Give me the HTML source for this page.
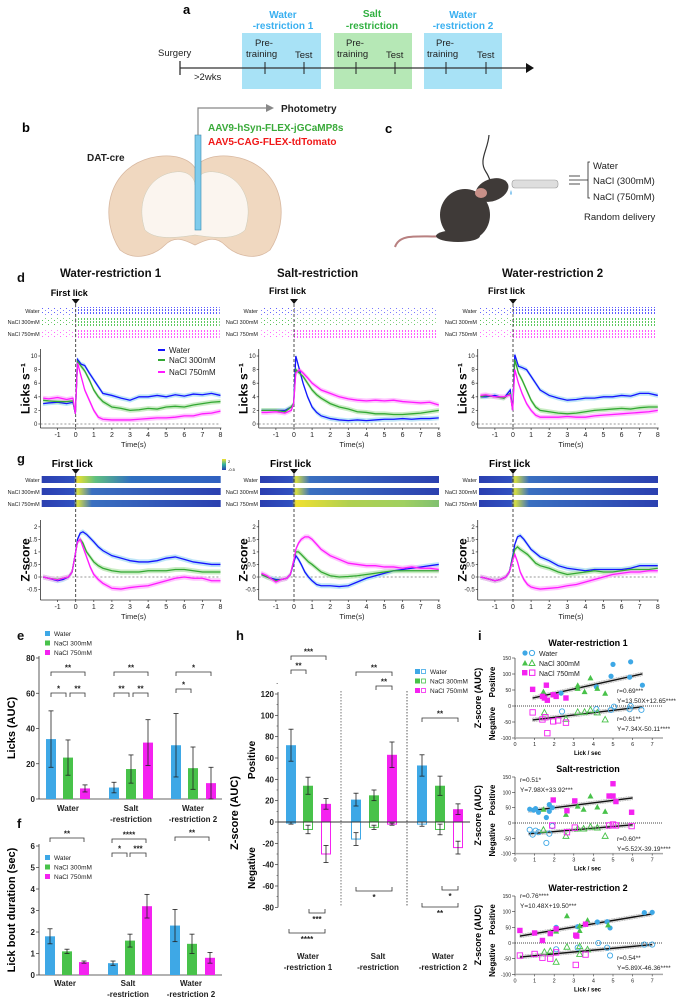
<!DOCTYPE html>
<html><head><meta charset="utf-8"><style>
html,body{margin:0;padding:0;background:#fff}
svg{display:block;font-family:"Liberation Sans",Arial,sans-serif}
</style></head><body>
<svg id="fig" width="685" height="998" viewBox="0 0 685 998" xmlns="http://www.w3.org/2000/svg">
<defs>
<pattern id="rastB" width="3" height="3" patternUnits="userSpaceOnUse"><rect width="1" height="2" fill="#4040ff"/></pattern>
<pattern id="rastG" width="3" height="3" patternUnits="userSpaceOnUse"><rect width="1" height="2" fill="#40c040"/></pattern>
<pattern id="rastM" width="3" height="3" patternUnits="userSpaceOnUse"><rect width="1" height="2" fill="#ff40ff"/></pattern>
<pattern id="rastBs" width="6" height="4" patternUnits="userSpaceOnUse"><rect width="1" height="1" fill="#6060ff"/><rect x="3" y="2" width="1" height="1" fill="#8080ff"/></pattern>
<pattern id="rastGs" width="6" height="4" patternUnits="userSpaceOnUse"><rect width="1" height="1" fill="#50c050"/><rect x="3" y="2" width="1" height="1" fill="#80d080"/></pattern>
<pattern id="rastMs" width="6" height="4" patternUnits="userSpaceOnUse"><rect width="1" height="1" fill="#ff60ff"/><rect x="3" y="2" width="1" height="1" fill="#ff90ff"/></pattern>
<linearGradient id="hmA" x1="0" x2="1"><stop offset="0" stop-color="#2b3fb0"/><stop offset="0.18" stop-color="#3050c0"/><stop offset="0.2" stop-color="#e8e030"/><stop offset="0.3" stop-color="#60c080"/><stop offset="0.5" stop-color="#3070c0"/><stop offset="1" stop-color="#3060c0"/></linearGradient>
<linearGradient id="hmB" x1="0" x2="1"><stop offset="0" stop-color="#2b3fb0"/><stop offset="0.18" stop-color="#3050c0"/><stop offset="0.2" stop-color="#d8e040"/><stop offset="0.28" stop-color="#3a70c0"/><stop offset="1" stop-color="#2b40b0"/></linearGradient>
<linearGradient id="hmC" x1="0" x2="1"><stop offset="0" stop-color="#2b3fb0"/><stop offset="0.18" stop-color="#3050c0"/><stop offset="0.2" stop-color="#f0e030"/><stop offset="0.5" stop-color="#b0d050"/><stop offset="0.8" stop-color="#a0d060"/><stop offset="1" stop-color="#80c070"/></linearGradient>
<linearGradient id="cbar" x1="0" x2="0" y1="0" y2="1"><stop offset="0" stop-color="#f0e030"/><stop offset="0.5" stop-color="#30b0a0"/><stop offset="1" stop-color="#2b3fb0"/></linearGradient>
</defs>

<!-- Panel a -->
<g>
<text x="183" y="14" font-size="13" font-weight="bold">a</text>
<rect x="242" y="33" width="79" height="56" fill="#a8e2f6"/>
<rect x="334" y="33" width="78" height="56" fill="#b6e8b6"/>
<rect x="424" y="33" width="78" height="56" fill="#a8e2f6"/>
<text x="283" y="18" font-size="10" font-weight="bold" fill="#3ab0f0" text-anchor="middle">Water</text>
<text x="283" y="29" font-size="10" font-weight="bold" fill="#3ab0f0" text-anchor="middle">-restriction 1</text>
<text x="372" y="17" font-size="10" font-weight="bold" fill="#30b040" text-anchor="middle">Salt</text>
<text x="372" y="29" font-size="10" font-weight="bold" fill="#30b040" text-anchor="middle">-restriction</text>
<text x="463" y="18" font-size="10" font-weight="bold" fill="#3ab0f0" text-anchor="middle">Water</text>
<text x="463" y="29" font-size="10" font-weight="bold" fill="#3ab0f0" text-anchor="middle">-restriction 2</text>
<line x1="180" y1="68" x2="528" y2="68" stroke="#333" stroke-width="1.3"/>
<polygon points="526,63 534,68 526,73" fill="#111"/>
<line x1="180" y1="61" x2="180" y2="75" stroke="#333" stroke-width="1.3"/>
<g stroke="#222" stroke-width="1"><line x1="265" y1="62" x2="265" y2="74"/><line x1="304" y1="62" x2="304" y2="74"/><line x1="356" y1="62" x2="356" y2="74"/><line x1="395" y1="62" x2="395" y2="74"/><line x1="446" y1="62" x2="446" y2="74"/><line x1="486" y1="62" x2="486" y2="74"/></g>
<g font-size="9.5" fill="#222">
<text x="158" y="56">Surgery</text><text x="194" y="80">&gt;2wks</text>
<text x="255" y="46">Pre-</text><text x="246" y="57">training</text><text x="295" y="58">Test</text>
<text x="346" y="46">Pre-</text><text x="337" y="57">training</text><text x="386" y="58">Test</text>
<text x="436" y="46">Pre-</text><text x="427" y="57">training</text><text x="477" y="58">Test</text>
</g>
</g>

<!-- Panel b -->
<g>
<text x="22" y="132" font-size="13" font-weight="bold">b</text>
<text x="87" y="161" font-size="10" font-weight="bold" fill="#222">DAT-cre</text>
<path d="M120,250 C100,220 105,170 150,158 C175,152 190,160 195,168 C200,160 215,152 240,158 C285,170 290,220 270,250 C255,262 235,255 225,245 C215,235 205,240 195,245 C185,240 175,235 165,245 C155,255 135,262 120,250 Z" fill="#f0d8c0" stroke="#d8b8a0" stroke-width="0.8"/>
<path d="M145,230 C135,200 150,175 175,172 C190,170 195,180 195,185 C195,180 200,170 215,172 C240,175 255,200 245,230 C235,240 215,238 195,235 C175,238 155,240 145,230 Z" fill="#fbf5ef" stroke="#ccb" stroke-width="0.5"/>
<rect x="195" y="135" width="6" height="95" fill="#7ecbec" stroke="#3a8ab0" stroke-width="0.6"/>
<polyline points="198,135 198,108 268,108" fill="none" stroke="#888" stroke-width="1.2"/>
<polygon points="266,104 274,108 266,112" fill="#888"/>
<text x="281" y="112" font-size="10" font-weight="bold" fill="#222">Photometry</text>
<text x="208" y="131" font-size="10" font-weight="bold" fill="#3aaa3a">AAV9-hSyn-FLEX-jGCaMP8s</text>
<text x="208" y="145" font-size="10" font-weight="bold" fill="#f01818">AAV5-CAG-FLEX-tdTomato</text>
</g>

<!-- Panel c -->
<g>
<text x="385" y="133" font-size="13" font-weight="bold">c</text>
<path d="M489,135 C488,150 478,160 486,172 C490,178 490,182 492,185" fill="none" stroke="#333" stroke-width="1.2"/>
<path d="M395,247 C400,232 420,238 450,236" fill="none" stroke="#b88080" stroke-width="2"/>
<ellipse cx="465" cy="215" rx="25" ry="26" fill="#3f3a38"/>
<ellipse cx="492" cy="190" rx="17" ry="11" fill="#3f3a38" transform="rotate(-20 492 190)"/>
<ellipse cx="481" cy="193" rx="6" ry="5" fill="#c89088"/>
<ellipse cx="458" cy="236" rx="22" ry="6" fill="#3f3a38"/>
<rect x="512" y="180" width="46" height="8" rx="3" fill="#dedede" stroke="#999" stroke-width="0.6"/>
<path d="M511,190 q-2,4 0,5 q2,-1 0,-5" fill="#8ac8f0"/>
<g stroke="#222" stroke-width="0.8" fill="none"><polyline points="590,162 588,162 588,198 590,198"/><line x1="569" y1="180" x2="588" y2="180"/><line x1="569" y1="176" x2="580" y2="176"/><line x1="569" y1="184" x2="580" y2="184"/></g>
<g font-size="9.5" fill="#222"><text x="593" y="169">Water</text><text x="593" y="184">NaCl (300mM)</text><text x="593" y="200">NaCl (750mM)</text><text x="584" y="220">Random delivery</text></g>
</g>

<!-- Panel d/g headers -->
<g font-weight="bold" fill="#111">
<text x="17" y="282" font-size="13">d</text>
<text x="60" y="277" font-size="11.5">Water-restriction 1</text>
<text x="277" y="277" font-size="11.5">Salt-restriction</text>
<text x="502" y="277" font-size="11.5">Water-restriction 2</text>
<text x="17" y="463" font-size="13">g</text>
<text x="17" y="640" font-size="13">e</text>
<text x="17" y="828" font-size="13">f</text>
<text x="236" y="640" font-size="13">h</text>
<text x="478" y="640" font-size="13">i</text>
</g>
<g id="dg"></g>
<g id="bars"></g>
<g id="scat"></g>
</svg>
<script>
// ---------- data: panel d (licks) ----------
const licksTime=[-1.8,-1.5,-1,-0.5,-0.15,-0.02,0.1,0.3,0.5,0.75,1,1.25,1.5,2,2.5,3,3.5,4,4.5,5,5.5,6,6.5,7,7.5,8];
const licksWr1Water=[3,3.1,3.2,3,3.2,1.5,9.5,8.8,8.6,7.5,6.5,5.5,4.5,4.2,3.8,3.5,4,4,4.2,4,4.3,4.1,4.4,4.3,4.5,4.2];
const licksWr1Nacl300=[3.5,3.4,3.3,3.3,3.4,1.5,9.2,8.5,7.8,6.5,5,4,3.3,2.5,2.3,2,2.1,2.3,2.2,2.5,2.6,2.5,2.8,3,3.2,3.3];
const licksWr1Nacl750=[3.8,3.7,3.9,3.6,3.8,1.5,9.0,7,5,3.5,2,1,0.7,0.6,0.6,0.6,0.7,0.8,0.9,0.9,1.0,1.2,1.2,1.5,1.6,1.9];
const licksSaltWater=[2,2,2,2,2.5,3,10,8,6,4,2.5,1.7,1.2,0.8,0.6,0.5,0.6,0.5,0.6,0.7,0.7,0.8,0.7,0.8,0.8,0.9];
const licksSaltNacl300=[2,2,2,1.8,2.5,3,8,7.5,7,6,5,4.3,3.8,3,2.5,2.2,1.8,1.7,1.5,1.5,1.4,1.4,1.5,1.6,1.8,2];
const licksSaltNacl750=[1.7,1.7,1.8,1.6,2,3,7.5,8,7.5,6.8,6,5.5,5,4.5,4,3.7,3.5,3.4,3.5,3.4,3.5,3.3,3.2,3.1,3.2,2.8];
const licksWr2Water=[4,4,4.2,3.8,5,2,10.2,8.5,8.3,8,7,6,5,4.2,3.8,3.5,3.6,3.8,3.8,4,4,4.2,4.1,4.5,4.5,4.2];
const licksWr2Nacl300=[4,4.2,4,3.8,4.5,2,9.5,7.5,6.5,5,3.5,2.5,2,1.8,1.6,1.5,1.6,1.8,2,2.1,2.2,2.3,2.2,2.4,2.5,2.5];
const licksWr2Nacl750=[4.2,4.3,4,4,4.3,2,8,6,4.5,3,2,1.3,1,1,1,1.1,1,1,1.2,1.3,1.4,1.5,1.6,1.7,1.8,2];
// ---------- data: panel g (z-score) ----------
const zTime=[-1.8,-1.5,-1,-0.7,-0.4,-0.2,0,0.1,0.25,0.4,0.6,0.8,1,1.25,1.5,2,2.5,3,3.5,4,4.5,5,5.5,6,6.5,7,7.5,8];
const zWr1Water=[0,-0.05,-0.15,-0.1,0,0.2,1.0,1.5,1.75,1.8,1.7,1.55,1.4,1.2,1.05,0.85,0.75,0.65,0.6,0.6,0.65,0.75,0.8,0.7,0.6,0.55,0.5,0.5];
const zWr1Nacl300=[0,-0.05,-0.1,-0.05,0,0.2,1.0,1.4,1.5,1.35,1.0,0.8,0.6,0.45,0.35,0.25,0.2,0.2,0.2,0.25,0.25,0.25,0.3,0.3,0.25,0.2,0.2,0.2];
const zWr1Nacl750=[0,-0.05,-0.12,-0.05,0,0.2,1.0,1.4,1.5,1.2,0.8,0.4,0.1,-0.1,-0.25,-0.45,-0.48,-0.42,-0.38,-0.35,-0.25,-0.15,-0.05,0,-0.05,-0.05,-0.15,-0.15];
const zSaltWater=[0.1,0,-0.1,-0.1,-0.05,0.1,0.6,0.85,0.7,0.5,0.2,0,-0.15,-0.3,-0.35,-0.35,-0.38,-0.35,-0.2,-0.05,0.05,0.15,0.25,0.3,0.35,0.4,0.45,0.5];
const zSaltNacl300=[0.1,0,-0.15,-0.1,-0.05,0.1,0.7,1.0,1.0,0.9,0.75,0.6,0.5,0.35,0.2,0.05,0,0.02,0.05,0.1,0.15,0.2,0.25,0.25,0.25,0.25,0.25,0.25];
const zSaltNacl750=[0.15,0.05,-0.2,-0.1,-0.05,0.1,0.7,1.1,1.35,1.5,1.6,1.6,1.5,1.3,1.1,0.85,0.7,0.55,0.5,0.45,0.45,0.4,0.4,0.35,0.4,0.35,0.35,0.3];
const zWr2Water=[0,-0.05,-0.15,-0.1,0,0.2,0.9,1.3,1.6,1.65,1.5,1.3,1.1,0.95,0.8,0.65,0.45,0.35,0.3,0.25,0.3,0.3,0.3,0.3,0.35,0.45,0.45,0.45];
const zWr2Nacl300=[0,-0.05,-0.15,-0.1,0,0.2,0.8,1.1,1.2,1.1,1.0,0.9,0.75,0.55,0.45,0.35,0.2,0.1,0.15,0.2,0.25,0.2,0.2,0.25,0.3,0.3,0.3,0.35];
const zWr2Nacl750=[0,-0.05,-0.15,-0.1,0,0.2,0.7,0.9,0.6,0.2,-0.1,-0.3,-0.4,-0.45,-0.48,-0.45,-0.42,-0.35,-0.3,-0.2,-0.1,0,0.1,0.15,0.2,0.2,0.25,0.25];
const timeTicks=[-1,0,1,2,3,4,5,6,7,8];
const licksTicks=[0,2,4,6,8,10];
const zTicks=[-0.5,0,0.5,1,1.5,2];
// ---------- data: bars ----------
const barGroups=["Water","Salt\n-restriction","Water\n-restriction 2"];
const licksAuc=[[34,23.5,6],[6.5,17,32],[30.5,17.5,9]];
const licksAucErr=[[16,10,2],[3,8,13],[18,12,9]];
const boutDur=[[1.8,1.1,0.6],[0.55,1.6,3.2],[2.3,1.45,0.8]];
const boutDurErr=[[0.35,0.1,0.05],[0.1,0.3,0.55],[0.75,0.45,0.25]];
const zAucPos=[[72,34,17],[21,25,63],[53,34,12]];
const zAucPosErr=[[15,8,5],[6,5,12],[10,9,5]];
const zAucNeg=[[-1,-7,-30],[-16,-5,-2],[-2,-7,-24]];
const zAucNegErr=[[1,4,8],[6,2,1],[2,5,6]];
const eTicks=[0,20,40,60,80];
const fTicks=[0,1,2,3,4,5,6];
const hTicks=[-80,-60,-40,-20,0,20,40,60,80,100,120];
// ---------- data: scatter (i) ----------
const i1PosWater=[[2.35,40],[4.9,93],[5.0,130],[5.9,138],[5.85,90],[6.5,65],[4.15,60]];
const i1PosN300=[[1.45,45],[3.2,65],[3.55,45],[3.85,88],[4.2,55],[4.6,40],[3.2,55]];
const i1PosN750=[[0.9,52],[1.4,30],[1.6,65],[1.65,18],[1.5,25],[1.95,35],[2.1,30],[2.6,25]];
const i1NegWater=[[2.4,-17],[4.15,-10],[4.9,-12],[5.05,-2],[5.85,-10],[6.45,-12],[5.9,0]];
const i1NegN300=[[1.5,-20],[2.6,-40],[3.2,-18],[3.55,-18],[3.85,-12],[4.2,-20],[4.6,-42]];
const i1NegN750=[[0.9,-20],[1.4,-42],[1.55,-35],[1.65,-85],[1.95,-48],[2.2,-45],[2.6,-52]];
const i2PosWater=[[0.75,45],[0.95,42],[1.05,47],[1.2,35],[1.6,18],[1.75,60],[1.75,38],[1.9,50]];
const i2PosN300=[[1.45,45],[2.6,28],[3.2,55],[3.5,45],[3.85,88],[4.2,52],[4.6,38]];
const i2PosN750=[[1.95,75],[2.65,40],[3.05,72],[4.8,88],[5.0,128],[5.0,88],[5.15,70],[5.95,35]];
const i2NegWater=[[0.75,-22],[0.9,-38],[1.05,-25],[1.2,-30],[1.6,-65],[1.75,-35],[1.9,-10]];
const i2NegN300=[[1.45,-22],[2.6,-42],[3.2,-18],[3.5,-18],[3.85,-12],[4.2,-15],[4.6,-42]];
const i2NegN750=[[1.9,-8],[2.65,-30],[3.05,-15],[4.8,-8],[5.0,-5],[5.15,-8],[5.95,-10]];
const i3PosWater=[[2.1,50],[3.2,52],[4.2,67],[4.7,68],[4.85,48],[6.6,97],[7.0,98]];
const i3PosN300=[[2.1,38],[2.65,87],[3.3,40],[3.7,73],[4.75,58],[1.8,35],[3.3,55]];
const i3PosN750=[[0.25,40],[1.0,32],[1.4,8],[1.8,30],[2.1,45],[3.1,25],[3.15,22],[3.6,60]];
const i3NegWater=[[2.1,-20],[3.2,-15],[4.25,0],[4.7,-15],[4.85,-40],[6.6,-5],[7.0,-5]];
const i3NegN300=[[1.5,-28],[1.8,-25],[2.1,-60],[2.65,-12],[3.3,-10],[3.3,-35],[3.7,-20]];
const i3NegN750=[[0.25,-40],[1.0,-35],[1.4,-47],[1.8,-50],[2.1,-30],[3.1,-70],[3.6,-37]];
const iFits=[[13.50,12.65,0.9,6.5],[7.34,-50.11,0.9,6.5],[7.98,33.92,0.7,6.0],[5.52,-39.19,0.7,6.0],[10.48,19.50,0.25,7.0],[5.89,-46.36,0.25,7.0]];
const iTicksX=[0,1,2,3,4,5,6,7];
const iTicksY=[-100,-50,0,50,100,150];

const NS="http://www.w3.org/2000/svg";
function mk(tag,attrs,parent,txt){const e=document.createElementNS(NS,tag);for(const k in attrs)e.setAttribute(k,attrs[k]);if(txt!==undefined)e.textContent=txt;parent.appendChild(e);return e;}
const BLUE="#1414ff",GREEN="#33a833",MAG="#ff1aff";
const BLUEs="#a8dcf4",GREENs="#b8e6b0",MAGs="#ffb0ff";
const dg=document.getElementById('dg');

const panelX0=[75.7,294,513];
const titles=["wr1","salt","wr2"];
const licksSets=[[licksWr1Water,licksWr1Nacl300,licksWr1Nacl750],[licksSaltWater,licksSaltNacl300,licksSaltNacl750],[licksWr2Water,licksWr2Nacl300,licksWr2Nacl750]];
const zSets=[[zWr1Water,zWr1Nacl300,zWr1Nacl750],[zSaltWater,zSaltNacl300,zSaltNacl750],[zWr2Water,zWr2Nacl300,zWr2Nacl750]];
const cols=[BLUE,GREEN,MAG],shades=[BLUEs,GREENs,MAGs],sname=["water","nacl-300mm","nacl-750mm"];
const PX=18.1;

function linePanel(p,times,sets,y0,ppu,band,ticks,axisY,topY,yl,kind){
  const x0=panelX0[p];
  const X=t=>x0+t*PX, Y=v=>y0-v*ppu;
  const g=mk('g',{},dg);
  
  
  const xl=X(-1.95);
  mk('line',{x1:xl,y1:topY,x2:xl,y2:axisY,stroke:'#333','stroke-width':0.8},g);
  mk('line',{x1:xl,y1:axisY,x2:X(8.05),y2:axisY,stroke:'#333','stroke-width':0.8},g);
  ticks.forEach(v=>{mk('line',{x1:xl-2,y1:Y(v),x2:xl,y2:Y(v),stroke:'#333','stroke-width':0.7},g);
    const t=mk('text',{x:xl-3,y:Y(v)+2,'font-size':6,'text-anchor':'end',fill:'#222'},g,String(v));
    
    });
  timeTicks.forEach(v=>{mk('line',{x1:X(v),y1:axisY,x2:X(v),y2:axisY+2,stroke:'#333','stroke-width':0.7},g);
    const t=mk('text',{x:X(v),y:axisY+9,'font-size':7,'text-anchor':'middle',fill:'#222'},g,String(v));
    
    });
  const xt=mk('text',{x:X(3.2),y:axisY+19,'font-size':7.5,'text-anchor':'middle',fill:'#222'},g,'Time(s)');
  
  
  const yt=mk('text',{x:0,y:0,'font-size':12,'font-weight':'bold','text-anchor':'middle',transform:`translate(${xl-11},${(topY+axisY)/2}) rotate(-90)`},g,yl);
  
  
  mk('line',{x1:xl,y1:Y(0),x2:X(8),y2:Y(0),stroke:'#777','stroke-width':0.7,'stroke-dasharray':'2,2'},g);
  sets.forEach((s,i)=>{
    const up=s.map((v,k)=>X(times[k])+','+Y(v+band)).join(' ');
    const dn=s.map((v,k)=>X(times[k])+','+Y(v-band)).reverse().join(' ');
    const b=mk('polygon',{points:up+' '+dn,fill:shades[i],opacity:0.75},g);
    
    
  });
  sets.forEach((s,i)=>{
    const l=mk('polyline',{points:s.map((v,k)=>X(times[k])+','+Y(v)).join(' '),fill:'none',stroke:cols[i],'stroke-width':1.3},g);
    
    
  });
  return {X,g};
}

for(let p=0;p<3;p++){
  const x0=panelX0[p];
  // raster
  const rg=mk('g',{},dg);
  
  
  const rows=[['Water',307,'B'],['NaCl 300mM',318,'G'],['NaCl 750mM',330,'M']];
  rows.forEach(r=>{
    mk('rect',{x:x0-34,y:r[1],width:34,height:8,fill:'url(#rast'+r[2]+'s)'},rg);
    mk('rect',{x:x0,y:r[1],width:144,height:8,fill:'url(#rast'+r[2]+(p==1&&r[2]!='M'?'s':'')+')',opacity:0.85},rg);
    mk('text',{x:x0-36,y:r[1]+6,'font-size':5.5,'text-anchor':'end',fill:'#222'},rg,r[0]);
  });
  // first lick label
  const fl=mk('text',{x:x0-25,y:p==0?296:294,'font-size':9,'font-weight':'bold'},dg,'First lick');
  
  
  mk('polygon',{points:`${x0-4},299 ${x0+4},299 ${x0},304`,fill:'#111'},dg);
  mk('line',{x1:x0,y1:304,x2:x0,y2:428,stroke:'#222','stroke-width':0.8,'stroke-dasharray':'3,2'},dg);
  linePanel(p,licksTime,licksSets[p],424,6.8,0.35,licksTicks,428,349,'Licks s⁻¹','licks');
  // g heatmaps
  const hg=mk('g',{},dg);
  
  
  const grads=p==1?['hmB','hmB','hmC']:p==0?['hmA','hmB','hmB']:['hmB','hmB','hmB'];
  [['Water',476],['NaCl 300mM',488],['NaCl 750mM',500]].forEach((r,k)=>{
    mk('rect',{x:x0-34,y:r[1],width:179,height:7,fill:'url(#'+grads[k]+')'},hg);
    mk('text',{x:x0-36,y:r[1]+6,'font-size':5.5,'text-anchor':'end',fill:'#222'},hg,r[0]);
  });
  const fl2=mk('text',{x:x0-24,y:467,'font-size':10,'font-weight':'bold'},dg,'First lick');
  
  
  mk('polygon',{points:`${x0-4},469 ${x0+4},469 ${x0},474`,fill:'#111'},dg);
  mk('line',{x1:x0,y1:474,x2:x0,y2:600,stroke:'#222','stroke-width':0.8,'stroke-dasharray':'3,2'},dg);
  linePanel(p,zTime,zSets[p],577,25.1,0.1,zTicks,600,520,'Z-score','zscore');
}
// colorbar
mk('rect',{x:222,y:459,width:4,height:11,fill:'url(#cbar)'},dg);
mk('text',{x:228,y:463,'font-size':4},dg,'2');
mk('text',{x:228,y:471,'font-size':4},dg,'-0.5');
// d legend
[['Water',BLUE,353],['NaCl 300mM',GREEN,363],['NaCl 750mM',MAG,375]].forEach((r,i)=>{
  const lg=mk('g',{},dg);
  
  
  mk('line',{x1:158,y1:r[2]-3,x2:165,y2:r[2]-3,stroke:r[1],'stroke-width':2},lg);
  mk('text',{x:169,y:r[2],'font-size':8,fill:'#222'},lg,r[0]);
});

// ---------- bar charts ----------
const bars=document.getElementById('bars');
const BC=["#3ea8e6","#48c24a","#f422f0"];
const groupCx=[[51,68,85],[114,131,148],[176,193,211]];
function barAxis(g,xa,xb,Y,ticks,axisY){
  mk('line',{x1:xa,y1:Y(ticks[ticks.length-1])-2,x2:xa,y2:axisY,stroke:'#333','stroke-width':0.8},g);
  mk('line',{x1:xa,y1:axisY,x2:xb,y2:axisY,stroke:'#333','stroke-width':0.8},g);
  ticks.forEach(v=>{mk('line',{x1:xa-3,y1:Y(v),x2:xa,y2:Y(v),stroke:'#333','stroke-width':0.7},g);
    const t=mk('text',{x:xa-4,y:Y(v)+3,'font-size':8,'font-weight':'bold','text-anchor':'end',fill:'#222'},g,String(v));
    
    });
}
function errBar(g,x,y1,y2){
  mk('line',{x1:x,y1:y1,x2:x,y2:y2,stroke:'#222','stroke-width':0.8},g);
  mk('line',{x1:x-2.5,y1:y1,x2:x+2.5,y2:y1,stroke:'#222','stroke-width':0.8},g);
  mk('line',{x1:x-2.5,y1:y2,x2:x+2.5,y2:y2,stroke:'#222','stroke-width':0.8},g);
}
function bracket(g,x1,x2,y,label,down){
  const d=down?-4:4;
  mk('polyline',{points:`${x1},${y+d} ${x1},${y} ${x2},${y} ${x2},${y+d}`,fill:'none',stroke:'#333','stroke-width':0.8},g);
  const t=mk('text',{x:(x1+x2)/2,y:down?y+9:y-1.5,'font-size':8,'font-weight':'bold','text-anchor':'middle',fill:'#222'},g,label);
  
  
}
function groupLabels(g,cx,y){
  barGroups.forEach((n,i)=>{n.split('\n').forEach((s,k)=>{
    const t=mk('text',{x:cx[i],y:y+k*11,'font-size':8,'font-weight':'bold','text-anchor':'middle',fill:'#222'},g,s);
    
    });});
}
function barLegend(g,x,y,names){
  names.forEach((n,i)=>{
    const lg=mk('g',{},g);
    
    
    mk('rect',{x:x,y:y+i*9.5-5,width:5,height:5,fill:BC[i]},lg);
    mk('text',{x:x+9,y:y+i*9.5,'font-size':6.5,fill:'#222'},lg,n);
  });
}
// e
{
  const g=mk('g',{},bars);
  
  
  const Y=v=>799-v*141/80;
  barAxis(g,39,222,Y,eTicks,799);
  licksAuc.forEach((grp,i)=>grp.forEach((v,k)=>{
    const cx=groupCx[i][k];
    const r=mk('rect',{x:cx-5,y:Y(v),width:10,height:799-Y(v),fill:BC[k]},g);
    
    
    errBar(g,cx,Y(v+licksAucErr[i][k]),Y(v-licksAucErr[i][k]));
  }));
  barLegend(g,45,636,['Water','NaCl 300mM','NaCl 750mM']);
  const yt=mk('text',{x:0,y:0,'font-size':11,'font-weight':'bold','text-anchor':'middle',transform:'translate(15,728) rotate(-90)'},g,'Licks (AUC)');
  
  
  groupLabels(g,[68,131,193],811);
  bracket(g,51,85,672,'**');bracket(g,51,66,693,'*');bracket(g,70,85,693,'**');
  bracket(g,114,148,672,'**');bracket(g,114,129,693,'**');bracket(g,133,148,693,'**');
  bracket(g,176,211,672,'*');bracket(g,176,191,689,'*');
}
// f
{
  const g=mk('g',{},bars);
  
  
  const Y=v=>975-v*129/6;
  barAxis(g,39,222,Y,fTicks,975);
  boutDur.forEach((grp,i)=>grp.forEach((v,k)=>{
    const cx=groupCx[i][k]-1;
    const r=mk('rect',{x:cx-5,y:Y(v),width:10,height:975-Y(v),fill:BC[k]},g);
    
    
    errBar(g,cx,Y(v+boutDurErr[i][k]),Y(v-boutDurErr[i][k]));
  }));
  barLegend(g,45,860,['Water','NaCl 300mM','NaCl 750mM']);
  const yt=mk('text',{x:0,y:0,'font-size':11,'font-weight':'bold','text-anchor':'middle',transform:'translate(15,910) rotate(-90)'},g,'Lick bout duration (sec)');
  
  
  groupLabels(g,[65,128,191],986);
  bracket(g,50,84,838,'**');
  bracket(g,112,146,839,'****');bracket(g,112,127,853,'*');bracket(g,130,146,853,'***');
  bracket(g,175,209,837,'**');
}
// h
{
  const g=mk('g',{},bars);
  
  
  const Y=v=>822-v*128/120;
  const hCx=[[291,308,326],[356,374,392],[422,440,458]];
  mk('line',{x1:278,y1:Y(120)-2,x2:278,y2:Y(-80),stroke:'#333','stroke-width':0.8},g);
  hTicks.forEach(v=>{mk('line',{x1:275,y1:Y(v),x2:278,y2:Y(v),stroke:'#333','stroke-width':0.7},g);
    mk('line',{x1:276.5,y1:Y(v+10),x2:278,y2:Y(v+10),stroke:'#333','stroke-width':0.5},g);
    const t=mk('text',{x:274,y:Y(v)+3,'font-size':8,'font-weight':'bold','text-anchor':'end',fill:'#222'},g,String(v));
    
    });
  mk('line',{x1:341,y1:691,x2:341,y2:907,stroke:'#555','stroke-width':0.8,'stroke-dasharray':'1.5,1.5'},g);
  mk('line',{x1:407,y1:691,x2:407,y2:907,stroke:'#333','stroke-width':0.8,'stroke-dasharray':'1.5,1.5'},g);
  zAucPos.forEach((grp,i)=>grp.forEach((v,k)=>{
    const cx=hCx[i][k];
    const r=mk('rect',{x:cx-5,y:Y(v),width:10,height:Y(0)-Y(v),fill:BC[k]},g);
    
    
    const n=zAucNeg[i][k];
    const r2=mk('rect',{x:cx-4.5,y:Y(0),width:9,height:Y(n)-Y(0),fill:'#fff',stroke:BC[k],'stroke-width':1},g);
    
    
    errBar(g,cx,Y(v+zAucPosErr[i][k]),Y(v-zAucPosErr[i][k]));
    errBar(g,cx,Y(n+zAucNegErr[i][k]),Y(n-zAucNegErr[i][k]));
  }));
  mk('line',{x1:278,y1:Y(0),x2:470,y2:Y(0),stroke:'#333','stroke-width':0.9},g);
  const yt=mk('text',{x:0,y:0,'font-size':11,'font-weight':'bold','text-anchor':'middle',transform:'translate(238,813) rotate(-90)'},g,'Z-score (AUC)');
  
  
  mk('text',{x:0,y:0,'font-size':10,'font-weight':'bold','text-anchor':'middle',transform:'translate(255,760) rotate(-90)'},g,'Positive');
  mk('text',{x:0,y:0,'font-size':10,'font-weight':'bold','text-anchor':'middle',transform:'translate(255,868) rotate(-90)'},g,'Negative');
  [['Water\n-restriction 1',308],['Salt\n-restriction',378],['Water\n-restriction 2',443]].forEach(r=>{r[0].split('\n').forEach((s,k)=>{
    const t=mk('text',{x:r[1],y:959+k*11,'font-size':8,'font-weight':'bold','text-anchor':'middle',fill:'#222'},g,s);
    
    });});
  ['Water','NaCl 300mM','NaCl 750mM'].forEach((n,i)=>{
    const lg=mk('g',{},g);
    
    
    mk('rect',{x:415,y:669+i*9.5,width:5,height:5,fill:BC[i]},lg);
    mk('rect',{x:421.5,y:669.5+i*9.5,width:4,height:4,fill:'#fff',stroke:BC[i],'stroke-width':0.8},lg);
    mk('text',{x:430,y:674+i*9.5,'font-size':6.5,fill:'#222'},lg,n);
  });
  bracket(g,291,326,656,'***');bracket(g,291,306,670,'**');
  bracket(g,356,392,672,'**');bracket(g,376,392,686,'**');
  bracket(g,422,458,718,'**');
  bracket(g,309,325,913,'***',true);bracket(g,289,325,933,'****',true);
  bracket(g,356,392,891,'*',true);bracket(g,442,458,890,'*',true);bracket(g,422,458,907,'**',true);
}

// ---------- scatter i ----------
const scat=document.getElementById('scat');
const iPanels=[
 {t:'Water-restriction 1',ty:646,y0:706,ppu:48/150,sets:[i1PosWater,i1PosN300,i1PosN750,i1NegWater,i1NegN300,i1NegN750],ann:[[617,693,'r=0.69***'],[617,703,'Y=13.50X+12.65****'],[617,721,'r=0.61**'],[617,731,'Y=7.34X-50.11****']]},
 {t:'Salt-restriction',ty:772,y0:823,ppu:46/150,sets:[i2PosWater,i2PosN300,i2PosN750,i2NegWater,i2NegN300,i2NegN750],ann:[[520,782,'r=0.51*'],[520,792,'Y=7.98X+33.92***'],[617,841,'r=0.60**'],[617,851,'Y=5.52X-39.19****']]},
 {t:'Water-restriction 2',ty:891,y0:943,ppu:47/150,sets:[i3PosWater,i3PosN300,i3PosN750,i3NegWater,i3NegN300,i3NegN750],ann:[[520,898,'r=0.76****'],[520,908,'Y=10.48X+19.50***'],[617,960,'r=0.54**'],[617,970,'Y=5.89X-46.36****']]}
];
const IC=["#3ea8e6","#48c24a","#f422f0"];
iPanels.forEach((P,pi)=>{
  const g=mk('g',{},scat);
  
  
  const X=v=>515+v*19.6, Y=v=>P.y0-v*P.ppu;
  const tt=mk('text',{x:588,y:P.ty,'font-size':9,'font-weight':'bold','text-anchor':'middle'},g,P.t);
  
  
  const yb=Y(-100);
  mk('line',{x1:515,y1:Y(150),x2:515,y2:yb,stroke:'#333','stroke-width':0.7},g);
  mk('line',{x1:515,y1:yb,x2:663,y2:yb,stroke:'#aaa','stroke-width':1.5},g);
  iTicksY.forEach(v=>{mk('line',{x1:512,y1:Y(v),x2:515,y2:Y(v),stroke:'#333','stroke-width':0.6},g);
    mk('text',{x:511,y:Y(v)+2,'font-size':5,'text-anchor':'end',fill:'#222'},g,String(v));});
  iTicksX.forEach(v=>{mk('line',{x1:X(v),y1:yb,x2:X(v),y2:yb+2,stroke:'#333','stroke-width':0.6},g);
    mk('text',{x:X(v),y:yb+8,'font-size':5.5,'text-anchor':'middle',fill:'#222'},g,String(v));});
  mk('text',{x:X(3.7),y:yb+17,'font-size':6,'font-weight':'bold','text-anchor':'middle'},g,'Lick / sec');
  mk('line',{x1:515,y1:Y(0),x2:663,y2:Y(0),stroke:'#444','stroke-width':0.9,'stroke-dasharray':'1,1'},g);
  const yt=mk('text',{x:0,y:0,'font-size':9,'font-weight':'bold','text-anchor':'middle',transform:`translate(481,${Y(25)}) rotate(-90)`},g,'Z-score (AUC)');
  
  
  mk('text',{x:0,y:0,'font-size':8,'font-weight':'bold','text-anchor':'middle',transform:`translate(495,${Y(75)}) rotate(-90)`},g,'Positive');
  mk('text',{x:0,y:0,'font-size':8,'font-weight':'bold','text-anchor':'middle',transform:`translate(495,${Y(-55)}) rotate(-90)`},g,'Negative');
  [0,1].forEach(f=>{
    const F=iFits[pi*2+f];
    const xa=F[2],xb=F[3];
    mk('polygon',{points:`${X(xa)},${Y(F[0]*xa+F[1]+6)} ${X(xb)},${Y(F[0]*xb+F[1]+6)} ${X(xb)},${Y(F[0]*xb+F[1]-6)} ${X(xa)},${Y(F[0]*xa+F[1]-6)}`,fill:'#ddd',stroke:'#999','stroke-width':0.4,'stroke-dasharray':'1.5,1'},g);
    const l=mk('line',{x1:X(xa),y1:Y(F[0]*xa+F[1]),x2:X(xb),y2:Y(F[0]*xb+F[1]),stroke:'#111','stroke-width':1.4},g);
    
    
  });
  P.sets.forEach((pts,si)=>{
    const c=IC[si%3], open=si>=3, shape=si%3;
    pts.forEach(pt=>{
      const x=X(pt[0]),y=Y(pt[1]);
      const a=open?{fill:'none',stroke:c,'stroke-width':0.9}:{fill:c};
      let m;
      if(shape==0){a.cx=x;a.cy=y;a.r=2.6;m=mk('circle',a,g);}
      else if(shape==1){a.points=`${x-3},${y+2.5} ${x+3},${y+2.5} ${x},${y-3}`;m=mk('polygon',a,g);}
      else {a.x=x-2.7;a.y=y-2.7;a.width=5.4;a.height=5.4;m=mk('rect',a,g);}
      
      
    });
  });
  P.ann.forEach(a=>{mk('text',{x:a[0],y:a[1],'font-size':6.5,fill:'#222'},g,a[2]);});
});
// i legend
[['Water',0],['NaCl 300mM',1],['NaCl 750mM',2]].forEach((r,i)=>{
  const lg=mk('g',{},scat);
  
  
  const y=655+i*10,c=IC[i];
  if(i==0){mk('circle',{cx:525,cy:y-2,r:2.6,fill:c},lg);mk('circle',{cx:532,cy:y-2,r:2.6,fill:'none',stroke:c},lg);}
  else if(i==1){mk('polygon',{points:`522,${y+0.5} 528,${y+0.5} 525,${y-5}`,fill:c},lg);mk('polygon',{points:`529,${y+0.5} 535,${y+0.5} 532,${y-5}`,fill:'none',stroke:c},lg);}
  else{mk('rect',{x:522,y:y-5,width:5.4,height:5.4,fill:c},lg);mk('rect',{x:529.5,y:y-5,width:5.4,height:5.4,fill:'none',stroke:c},lg);}
  mk('text',{x:539,y:y+1,'font-size':7,fill:'#222'},lg,r[0]);
});
</script>
</body></html>
